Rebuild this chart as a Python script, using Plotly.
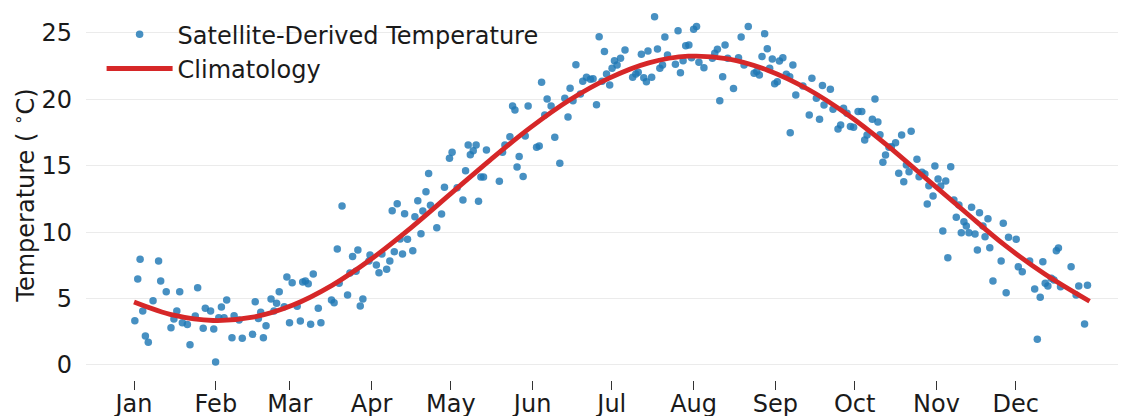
import plotly.graph_objects as go

# ---- data ----
obs_day = [
    0.3, 1.4, 2.3, 3.3, 4.3, 5.4, 7.2, 9.3, 10.1, 12.2, 14.0, 15.1, 16.2, 17.3, 18.3, 20.2, 21.2, 23.2, 24.1, 26.2,
    27.0, 29.0, 30.2, 30.9, 32.1, 33.1, 34.1, 35.1, 37.1, 37.9, 39.8, 41.0, 44.9, 45.9, 47.1,
    48.0, 49.0, 50.0, 51.9, 53.0, 54.0, 55.0, 56.9, 57.9, 58.9, 59.9, 61.8, 63.0, 63.9, 64.9, 66.0, 66.9, 67.9,
    69.8, 70.8, 74.8, 75.8, 77.0, 77.7, 78.8, 80.9, 81.8, 82.8, 84.1, 84.8, 85.7, 86.7, 89.0, 89.4, 91.8, 92.8,
    93.9, 95.7, 96.9, 97.8,
    98.6, 99.7, 100.8, 101.7, 102.5, 103.6, 105.6, 106.4, 107.5, 108.7, 109.4, 110.6, 111.6, 112.3, 114.7, 116.5,
    117.6, 119.5, 120.5, 122.4, 124.6, 125.6, 126.6, 127.4, 128.5, 129.6, 130.5, 131.4, 132.4, 133.5, 138.4, 139.6,
    140.5, 142.4, 143.4, 144.3, 145.1, 145.9,
    147.4, 148.2, 149.3, 152.5, 153.5, 154.4, 155.6, 156.5, 158.0, 159.4, 161.3, 163.2, 164.4, 165.2, 166.3, 167.4,
    169.1, 170.0, 171.4, 172.9, 173.9, 175.2, 176.2, 177.3, 178.2, 179.0, 180.2, 181.1, 182.0, 183.0, 184.3, 186.0,
    188.9, 190.1, 191.0, 192.2, 193.1, 194.1, 194.7,
    196.1, 197.2, 198.3, 199.2, 200.2, 201.1, 202.1, 205.1, 206.1, 207.0, 208.0, 209.0, 210.2, 211.2, 212.0, 213.1,
    214.0, 215.9, 219.1, 220.0, 221.0, 221.9, 223.0, 223.9, 224.9, 227.1, 229.0, 230.0, 231.1, 232.7, 234.9, 235.9,
    236.9, 237.9, 238.9, 239.9, 240.8, 241.8, 242.7, 243.7, 244.5,
    245.8, 247.1, 248.4, 248.6, 249.6, 250.7, 253.4, 255.8, 256.8, 258.5, 259.7, 260.8, 261.4, 263.8, 264.8, 266.7,
    267.7, 268.8, 270.1, 271.4, 272.6, 274.3, 275.7, 276.8, 277.7, 279.7, 280.7, 281.8, 282.6, 283.7, 284.7, 286.0,
    286.9, 288.5, 289.7, 290.8, 291.6, 292.6, 293.6, 294.4,
    296.6, 297.4, 298.5, 299.6, 300.5, 301.1, 302.7, 303.4, 304.6, 305.6, 306.4, 307.5, 308.3, 309.4, 310.6, 311.5,
    312.5, 313.4, 314.4, 315.3, 316.3, 317.3, 318.6, 319.5, 320.3, 321.6, 322.4, 323.5, 324.2, 325.4, 328.5, 329.3,
    330.4, 331.3, 334.2, 335.0,
    336.5, 339.3, 341.2, 342.2, 343.3, 344.3, 345.2, 346.2, 347.5, 348.5, 349.4, 350.2, 351.0, 355.0, 356.9, 357.9,
    360.1, 361.2,
]
obs_temp = [
    3.34, 6.48, 7.96, 4.07, 2.18, 1.71, 4.84, 7.83, 6.33, 5.52, 2.81, 3.46, 4.07, 5.52, 3.19, 3.04, 1.53, 3.69, 5.82, 2.76,
    4.27, 4.07, 2.71, 0.23, 3.56, 4.37, 3.56, 4.89, 2.06, 3.71, 3.39, 2.01, 2.31, 4.77, 3.51,
    3.97, 2.06, 2.96, 4.97, 4.07, 4.64, 5.52, 4.39, 6.63, 3.19, 6.20, 4.42, 3.31, 6.25, 6.33, 6.12, 3.06, 6.85,
    4.27, 3.19, 4.89, 4.69, 8.73, 6.15, 11.97, 5.27, 6.93, 8.16, 7.05, 8.66, 4.44, 4.97, 7.83, 8.28, 7.53, 6.95,
    8.36, 7.20, 7.83, 11.62,
    8.53, 12.15, 9.49, 8.36, 11.39, 9.46, 8.61, 11.17, 12.37, 9.89, 11.60, 13.05, 14.41, 12.02, 10.34, 11.37,
    13.38, 15.56, 16.02, 13.35, 12.42, 14.63, 16.57, 15.84, 16.14, 16.57, 12.33, 14.16, 14.16, 16.19, 13.83, 16.02,
    16.57, 17.19, 19.50, 19.20, 14.91, 15.69,
    14.20, 17.24, 19.50, 16.39, 16.49, 21.29, 18.83, 20.03, 19.50, 17.15, 15.19, 20.08, 18.67, 20.83, 19.90, 22.61,
    20.41, 21.36, 21.66, 21.51, 21.56, 19.60, 24.72, 21.36, 23.60, 21.91, 21.08, 22.34, 22.91, 22.59, 23.09, 23.72,
    21.66, 21.91, 22.04, 23.39, 21.63, 21.33, 23.64,
    21.66, 26.23, 23.80, 22.34, 22.59, 24.70, 23.34, 22.64, 25.17, 22.01, 22.91, 24.04, 24.10, 23.14, 25.28, 25.48,
    22.79, 22.39, 23.09, 23.47, 23.77, 19.90, 21.71, 24.10, 23.09, 20.81, 23.14, 24.70, 22.59, 25.48, 21.96, 22.09,
    21.84, 23.22, 24.95, 23.82, 22.34, 23.04, 21.18, 21.33, 22.89,
    23.14, 21.89, 21.71, 17.49, 22.59, 20.33, 21.01, 18.83, 21.59, 20.08, 18.50, 21.04, 19.58, 20.76, 19.25, 17.77,
    18.07, 19.33, 18.95, 17.95, 17.90, 19.08, 19.08, 16.94, 17.32, 18.50, 20.03, 18.30, 17.34, 15.26, 15.81, 16.39,
    16.44, 16.74, 14.43, 17.32, 13.80, 15.06, 14.56, 17.60,
    15.49, 14.18, 14.51, 14.38, 12.12, 13.50, 12.73, 14.98, 14.00, 13.48, 10.09, 13.86, 8.08, 14.93, 12.42, 11.12,
    12.05, 9.96, 10.79, 10.47, 9.96, 11.87, 9.86, 8.66, 11.47, 10.47, 9.66, 11.02, 8.83, 6.33, 7.83, 10.67,
    5.44, 9.61, 9.46, 7.40,
    7.03, 7.83, 5.72, 1.94, 5.10, 7.78, 6.15, 5.95, 6.53, 6.40, 8.61, 8.81, 5.90, 7.40, 5.27, 5.95,
    3.09, 6.00,
]

clim_day = [0, 15, 30, 45, 60, 75, 90, 105, 120, 135, 150, 165, 180, 195, 210, 225, 240, 255, 270, 285,
            300, 315, 330, 345, 362]
clim_temp = [4.75, 3.75, 3.35, 3.60, 4.50, 6.00, 8.00, 10.35, 12.90, 15.45, 17.85, 19.95, 21.60, 22.75, 23.25,
             23.05, 22.20, 20.80, 18.90, 16.60, 14.05, 11.50, 9.00, 6.85, 4.80]

month_days = [0, 31, 59, 90, 120, 151, 181, 212, 243, 273, 304, 334]
month_labels = ["Jan", "Feb", "Mar", "Apr", "May", "Jun", "Jul", "Aug", "Sep", "Oct", "Nov", "Dec"]
y_ticks = [0, 5, 10, 15, 20, 25]

FONT = "DejaVu Sans"
FS = 24
TXT = "#1a1a1a"

fig = go.Figure()
fig.add_trace(go.Scatter(
    x=obs_day, y=obs_temp, mode="markers", name="Satellite-Derived Temperature",
    legendgroup="obs",
    marker=dict(color="#1f77b4", size=7.5, opacity=0.82, line=dict(width=0)),
))
fig.add_trace(go.Scatter(
    x=clim_day, y=clim_temp, mode="lines", name="Climatology",
    legendgroup="clim",
    line=dict(color="#d62728", width=4.8, shape="spline", smoothing=1.0),
))

fig.update_layout(
    width=1118, height=408,
    margin=dict(l=78, r=0, t=2, b=36),
    paper_bgcolor="white", plot_bgcolor="white",
    font=dict(family=FONT, size=FS, color=TXT),
    showlegend=True,
    legend=dict(
        x=0.015, y=0.994, xanchor="left", yanchor="top",
        bgcolor="rgba(0,0,0,0)", borderwidth=0,
        font=dict(family=FONT, size=FS, color=TXT),
        itemwidth=66, traceorder="grouped", tracegroupgap=0,
    ),
    xaxis=dict(
        range=[-18.2, 375.8], automargin=False,
        tickmode="array", tickvals=month_days, ticktext=month_labels,
        showgrid=False, zeroline=False, showline=False,
        ticks="outside", ticklen=9, tickwidth=1.3, tickcolor="#333333",
        ticklabelstandoff=-7,
        tickfont=dict(family=FONT, size=FS, color=TXT),
    ),
    yaxis=dict(
        range=[-1.13, 26.73], automargin=False,
        tickmode="array", tickvals=y_ticks,
        showgrid=True, gridcolor="#ebebeb", gridwidth=1,
        zeroline=False, showline=False, ticks="",
        ticklabelstandoff=13,
        tickfont=dict(family=FONT, size=FS, color=TXT),
        title=dict(text="Temperature ( <sup>∘</sup>C)", standoff=8,
                   font=dict(family=FONT, size=FS, color=TXT)),
    ),
)

fig.write_html("out.html")
